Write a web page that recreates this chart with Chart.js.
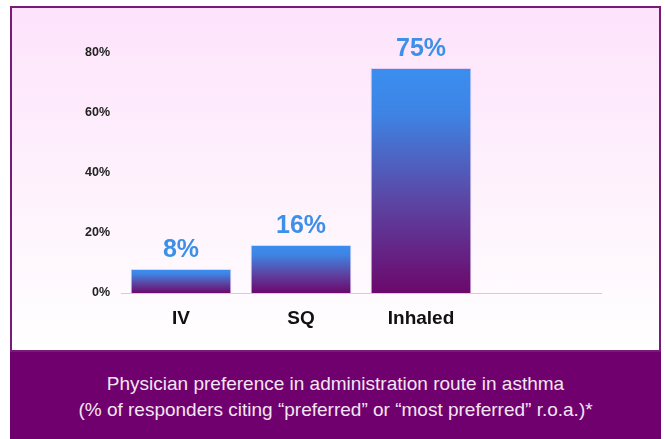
<!DOCTYPE html>
<html lang="en">
<head>
    <meta charset="UTF-8">
    <title>Administration route preference</title>
    <script src="https://cdn.jsdelivr.net/npm/chart.js"></script>
    <style>
        body { margin: 0; width: 665px; height: 439px; background: #fff; position: relative; overflow: hidden; font-family: "Liberation Sans", Arial, sans-serif; }
        .frame {
            position: absolute; left: 10px; top: 6px; width: 647px; height: 342px;
            border: 2px solid #7a1a78;
            background: linear-gradient(#fde3fb, #fef4fd 60%, #ffffff);
        }
        .frame canvas { position: absolute; left: 0; top: 0; }
        .caption {
            position: absolute; left: 10px; top: 352px; width: 651px; height: 87px;
            background: #70006e; color: #f3e6f3; text-align: center;
            font-size: 19px; line-height: 26px; padding-top: 19px; box-sizing: border-box;
        }
    </style>
</head>
<body>
    <div class="frame">
        <canvas id="myChart" width="647" height="342"></canvas>
    </div>
    <div class="caption">
        Physician preference in administration route in asthma<br>
        (% of responders citing “preferred” or “most preferred” r.o.a.)*
    </div>

    <script>
        // routes (last slot is empty, as in the slide)
        const labels = ['IV', 'SQ', 'Inhaled', ''];
        const preferredPct = [8, 16, 75, null];
        const yTicks = [0, 20, 40, 60, 80];

        // blue at the top of each bar, fading to purple at its base
        function barGradient(context) {
            const chart = context.chart;
            const yScale = chart.scales.y;
            const v = context.raw;
            if (!chart.chartArea || !yScale || v == null) return '#3a8eed';
            const top = yScale.getPixelForValue(v);
            const bottom = yScale.getPixelForValue(0);
            if (!isFinite(top) || !isFinite(bottom) || top >= bottom) return '#3a8eed';
            const g = chart.ctx.createLinearGradient(0, top, 0, bottom);
            g.addColorStop(0, '#3a8ef0');
            g.addColorStop(0.2, '#3e84e4');
            g.addColorStop(0.6, '#5c44a2');
            g.addColorStop(1, '#6c086c');
            return g;
        }

        const valueLabels = {
            id: 'valueLabels',
            afterDatasetsDraw(chart) {
                const ctx = chart.ctx;
                const meta = chart.getDatasetMeta(0);
                ctx.save();
                ctx.font = 'bold 25px "Liberation Sans", Arial, sans-serif';
                ctx.fillStyle = '#3d8fe8';
                ctx.textAlign = 'center';
                ctx.textBaseline = 'alphabetic';
                meta.data.forEach((bar, i) => {
                    const v = preferredPct[i];
                    if (v == null) return;
                    ctx.fillText(v + '%', bar.x, bar.y - 12);
                });
                ctx.restore();
            }
        };

        const ctx = document.getElementById('myChart').getContext('2d');
        const myChart = new Chart(ctx, {
            type: 'bar',
            data: {
                labels: labels,
                datasets: [{
                    data: preferredPct,
                    backgroundColor: barGradient,
                    borderColor: 'rgba(220, 200, 240, 0.8)',
                    borderWidth: 1,
                    categoryPercentage: 0.84,
                    barPercentage: 1
                }]
            },
            plugins: [valueLabels],
            options: {
                responsive: false,
                animation: false,
                layout: { padding: { top: 45, right: 58, left: 0, bottom: 0 } },
                plugins: {
                    legend: { display: false },
                    tooltip: { enabled: false }
                },
                scales: {
                    x: {
                        grid: { display: false },
                        border: { display: true, color: '#d0d0d0', width: 1 },
                        ticks: {
                            color: '#111',
                            padding: 6,
                            font: { family: '"Liberation Sans", Arial, sans-serif', size: 19, weight: 'bold' }
                        },
                        afterFit(scale) { scale.height = 57; }
                    },
                    y: {
                        min: 0,
                        max: 80,
                        afterBuildTicks(scale) { scale.ticks = yTicks.map(v => ({ value: v })); },
                        grid: { display: false },
                        border: { display: false },
                        ticks: {
                            color: '#222',
                            padding: 3,
                            font: { family: '"Liberation Sans", Arial, sans-serif', size: 12.5, weight: 'bold' },
                            callback: v => v + '%'
                        },
                        afterFit(scale) { scale.width = 109; }
                    }
                }
            }
        });
    </script>
</body>
</html>
